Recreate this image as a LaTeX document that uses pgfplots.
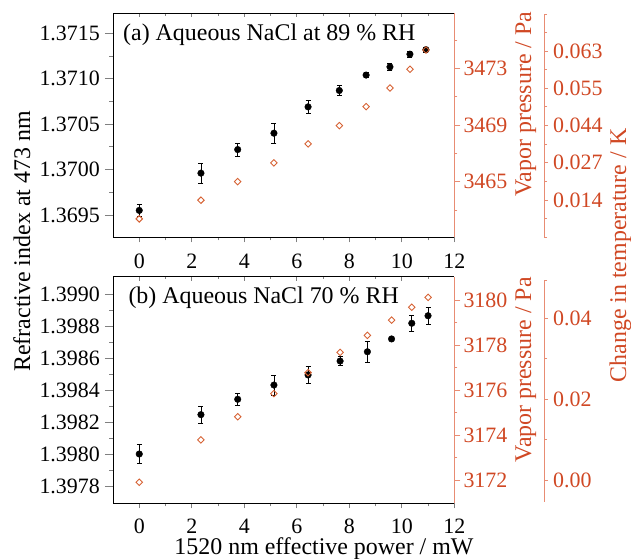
\documentclass[border=0pt]{standalone}
\usepackage{pgfplots}
\pgfplotsset{compat=1.18}
\usepackage{fontspec}
\setmainfont{Liberation Serif}
\definecolor{lbl}{RGB}{208,72,36}
\definecolor{axc}{RGB}{232,140,115}
\definecolor{dia}{RGB}{214,98,52}
\newcommand\tlf{\fontsize{22}{26}\selectfont}
\newcommand\txf{\fontsize{24}{28}\selectfont}
\pgfplotsset{
  base/.style={scale only axis, anchor=south west, width=341.3bp, xmin=-1, xmax=12,
    clip=false, tick label style={font=\tlf},
    /pgf/number format/assume math mode=true,
    /pgf/number format/1000 sep={},
    scaled ticks=false,
    axis line style={line width=0.8bp},
    tick style={line width=0.8bp}},
  leftax/.style={base, axis x line=none, axis y line*=left,
    tick align=outside, major tick length=8bp, minor tick length=3.5bp, minor y tick num=1,
    yticklabel style={anchor=east, inner sep=0pt, xshift=-5bp,
      /pgf/number format/fixed, /pgf/number format/fixed zerofill, /pgf/number format/precision=4}},
  botx/.style={base, axis y line=none, axis x line*=bottom, ymin=0, ymax=1,
    tick align=outside, major tick length=5bp, minor tick length=3bp,
    xtick={0,2,...,12}, minor x tick num=1,
    xticklabel style={anchor=base, inner sep=0pt}},
  topx/.style={base, axis y line=none, axis x line*=top, ymin=0, ymax=1,
    tick align=inside, major tick length=4bp, minor tick length=2.5bp,
    xtick={0,2,...,12}, minor x tick num=1, xticklabels={}},
  pax/.style={base, axis x line=none, axis y line*=right,
    y axis line style={axc}, ytick style={axc},
    tick align=outside, major tick length=6bp, minor tick length=3bp,
    yticklabel style={text=lbl, anchor=west, inner sep=0pt, xshift=3bp}},
  tax/.style={scale only axis, anchor=south west, width=10bp, xmin=0, xmax=1,
    axis x line=none, axis y line*=right, clip=false,
    tick label style={font=\tlf}, scaled ticks=false,
    /pgf/number format/assume math mode=true,
    axis line style={line width=0.8bp, axc}, tick style={line width=0.8bp, axc},
    tick align=outside, major tick length=4bp, minor tick length=3bp,
    yticklabel style={text=lbl, anchor=west, inner sep=0pt, xshift=5bp}},
  blk/.style={only marks, mark=*, mark size=3.3bp, black, mark options={fill=black},
    error bars/.cd, y dir=both, y explicit,
    error bar style={line width=0.6bp, black},
    error mark options={rotate=90, mark size=2.5bp, line width=0.6bp, black}},
  dmd/.style={only marks, mark=square, mark size=2.3bp, dia,
    mark options={rotate=45, fill=white, draw=dia, line width=0.9bp}},
}
\begin{document}
\begin{tikzpicture}
\useasboundingbox (0,0) rectangle (631bp,559bp);
% ---------------- top panel ----------------
\begin{axis}[leftax, at={(113bp,321.7bp)}, height=224bp, ymin=1.369254, ymax=1.37172,
  ytick={1.3695,1.37,1.3705,1.371,1.3715}]
\addplot+[blk] coordinates {
 (0,1.36955) +- (0,0.00007)
 (2.35,1.36996) +- (0,0.000114)
 (3.75,1.37022) +- (0,0.000073)
 (5.13,1.37040) +- (0,0.000106)
 (6.43,1.37069) +- (0,0.000073)
 (7.62,1.37087) +- (0,0.000055)
 (8.64,1.37104) +- (0,0.00003)
 (9.55,1.37113) +- (0,0.00004)
 (10.31,1.37127) +- (0,0.00003)
 (10.92,1.37132) +- (0,0.00003)
};
\end{axis}
\begin{axis}[botx, at={(113bp,321.7bp)}, height=224bp,
  xticklabel style={yshift=-26bp}]
\end{axis}
\begin{axis}[topx, at={(113bp,321.7bp)}, height=224bp]
\end{axis}
\begin{axis}[pax, at={(113bp,321.7bp)}, height=224bp, ymin=3461.07, ymax=3476.88,
  ytick={3465,3469,3473}, minor ytick={3463,3467,3471,3475}]
\addplot[dmd] coordinates {
 (0,3462.37) (2.35,3463.69) (3.75,3465.0) (5.13,3466.32) (6.43,3467.66)
 (7.62,3468.95) (8.64,3470.29) (9.55,3471.61) (10.31,3472.93) (10.92,3474.29)
};
\end{axis}
\begin{axis}[tax, at={(534bp,321.7bp)}, height=223.3bp, ymin=0, ymax=223.3,
  ytick={37.3,74.5,111.8,149,186.3},
  yticklabels={0.014,0.027,0.044,0.055,0.063},
  minor ytick={0,18.6,55.9,93.2,130.4,167.7,205,223.3}]
\end{axis}
% ---------------- bottom panel ----------------
\begin{axis}[leftax, at={(113bp,55.7bp)}, height=226.6bp, ymin=1.397692, ymax=1.399108,
  ytick={1.3978,1.398,1.3982,1.3984,1.3986,1.3988,1.399}]
\addplot+[blk] coordinates {
 (0,1.39800) +- (0,0.00006)
 (2.35,1.398246) +- (0,0.000054)
 (3.75,1.398342) +- (0,0.000039)
 (5.13,1.398431) +- (0,0.0000625)
 (6.43,1.398494) +- (0,0.000052)
 (7.65,1.398581) +- (0,0.000028)
 (8.69,1.398639) +- (0,0.000067)
 (9.61,1.398719) +- (0,0.00001)
 (10.38,1.398817) +- (0,0.00005)
 (11.0,1.398864) +- (0,0.000053)
};
\end{axis}
\begin{axis}[botx, at={(113bp,55.7bp)}, height=226.6bp,
  xticklabel style={yshift=-25bp}]
\end{axis}
\begin{axis}[topx, at={(113bp,55.7bp)}, height=226.6bp]
\end{axis}
\begin{axis}[pax, at={(113bp,55.7bp)}, height=226.6bp, ymin=3170.96, ymax=3181.04,
  ytick={3172,3174,3176,3178,3180}, minor y tick num=1]
\addplot[dmd] coordinates {
 (0,3171.9) (2.35,3173.78) (3.75,3174.81) (5.13,3175.84) (6.43,3176.77)
 (7.65,3177.67) (8.69,3178.43) (9.61,3179.11) (10.38,3179.68) (11.0,3180.12)
};
\end{axis}
\begin{axis}[tax, at={(534bp,57.3bp)}, height=221.7bp, ymin=-0.00537, ymax=0.04947,
  ytick={0,0.02,0.04}, minor ytick={0.01,0.03,0.04947},
  yticklabel style={/pgf/number format/fixed, /pgf/number format/fixed zerofill, /pgf/number format/precision=2}]
\end{axis}
% ---------------- labels ----------------
\node[rotate=90, anchor=base, font=\txf] at (30bp,317.5bp) {Refractive index at 473 nm};
\node[rotate=90, anchor=base, font=\txf, text=lbl] at (531bp,454.7bp) {Vapor pressure / Pa};
\node[rotate=90, anchor=base, font=\txf, text=lbl] at (531bp,189bp) {Vapor pressure / Pa};
\node[rotate=90, anchor=base, font=\txf, text=lbl] at (626bp,303.5bp) {Change in temperature / K};
\node[anchor=base, font=\txf] at (324bp,5bp) {1520 nm effective power / mW};
\node[anchor=base west, inner sep=0pt, font=\txf] at (123bp,518.3bp) {(a) Aqueous NaCl at 89 \% RH};
\node[anchor=base west, inner sep=0pt, font=\txf] at (128.3bp,255.7bp) {(b) Aqueous NaCl 70 \% RH};
\end{tikzpicture}
\end{document}
